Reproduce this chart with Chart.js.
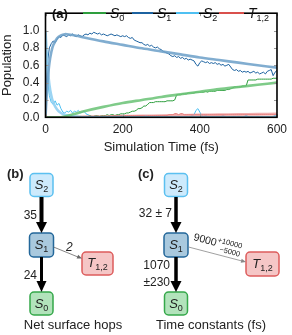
<!DOCTYPE html>
<html>
<head>
<meta charset="utf-8">
<script src="https://cdn.jsdelivr.net/npm/chart.js@4.4.1/dist/chart.umd.min.js"></script>
<style>
  html, body { margin: 0; padding: 0; background: #fff; }
  #wrap { position: relative; width: 292px; height: 335px; overflow: hidden; }
  #popChart { position: absolute; left: 0; top: 0; width: 292px; height: 155px; }
  #diagrams { position: absolute; left: 0; top: 0; }
  #diagrams text { font-family: 'Liberation Sans', Arial, sans-serif; fill: #222; }
</style>
</head>
<body>
<div id="wrap">
  <canvas id="popChart" width="292" height="155"></canvas>
  <svg id="diagrams" width="292" height="335" viewBox="0 0 292 335">
    <!-- (b) net surface hops -->
    <text x="7" y="178" font-size="13" font-weight="bold">(b)</text>
    <rect x="30" y="173.5" width="23" height="23" rx="4" fill="#cdeafc" stroke="#5bc0f0" stroke-width="1.5"/>
    <text x="41.5" y="189" font-size="13" text-anchor="middle"><tspan font-style="italic">S</tspan><tspan font-size="9" dy="3">2</tspan></text>
    <rect x="29.5" y="233" width="24" height="24" rx="4" fill="#a9c9de" stroke="#23679a" stroke-width="1.5"/>
    <text x="41.5" y="249" font-size="13" text-anchor="middle"><tspan font-style="italic">S</tspan><tspan font-size="9" dy="3">1</tspan></text>
    <rect x="82" y="252" width="31" height="23" rx="4" fill="#f5c6c6" stroke="#dd5c5c" stroke-width="1.5"/>
    <text x="97.5" y="267" font-size="13" text-anchor="middle"><tspan font-style="italic">T</tspan><tspan font-size="9" dy="3">1,2</tspan></text>
    <rect x="30" y="292" width="23" height="23" rx="4" fill="#b2e3bb" stroke="#35a84a" stroke-width="1.5"/>
    <text x="41.5" y="308" font-size="13" text-anchor="middle"><tspan font-style="italic">S</tspan><tspan font-size="9" dy="3">0</tspan></text>

    <rect x="39.5" y="197" width="4" height="27" fill="#000"/>
    <polygon points="36,222 47,222 41.5,233" fill="#000"/>
    <rect x="40" y="257" width="3" height="25" fill="#000"/>
    <polygon points="36.5,281 46.5,281 41.5,292" fill="#000"/>
    <line x1="53.5" y1="247" x2="78" y2="257" stroke="#666" stroke-width="0.8"/>
    <polygon points="82,258.5 76.6,258.45 78.2,254.75" fill="#666"/>
    <text x="37" y="219" font-size="12" text-anchor="end">35</text>
    <text x="37" y="279" font-size="12" text-anchor="end">24</text>
    <text x="66" y="251" font-size="12" font-style="italic">2</text>
    <text x="73" y="329" font-size="13" text-anchor="middle">Net surface hops</text>

    <!-- (c) time constants -->
    <text x="138" y="178" font-size="13" font-weight="bold">(c)</text>
    <rect x="164.5" y="173.5" width="23" height="23" rx="4" fill="#cdeafc" stroke="#5bc0f0" stroke-width="1.5"/>
    <text x="176" y="189" font-size="13" text-anchor="middle"><tspan font-style="italic">S</tspan><tspan font-size="9" dy="3">2</tspan></text>
    <rect x="164" y="233" width="24" height="24" rx="4" fill="#a9c9de" stroke="#23679a" stroke-width="1.5"/>
    <text x="176" y="249" font-size="13" text-anchor="middle"><tspan font-style="italic">S</tspan><tspan font-size="9" dy="3">1</tspan></text>
    <rect x="246" y="252" width="33" height="24" rx="4" fill="#f5c6c6" stroke="#dd5c5c" stroke-width="1.5"/>
    <text x="262.5" y="268" font-size="13" text-anchor="middle"><tspan font-style="italic">T</tspan><tspan font-size="9" dy="3">1,2</tspan></text>
    <rect x="164.5" y="292" width="23" height="23" rx="4" fill="#b2e3bb" stroke="#35a84a" stroke-width="1.5"/>
    <text x="176" y="308" font-size="13" text-anchor="middle"><tspan font-style="italic">S</tspan><tspan font-size="9" dy="3">0</tspan></text>

    <rect x="174.25" y="197" width="3.5" height="26" fill="#000"/>
    <polygon points="170.5,222 181.5,222 176,233" fill="#000"/>
    <rect x="174.25" y="257" width="3.5" height="25" fill="#000"/>
    <polygon points="170.5,281 181.5,281 176,292" fill="#000"/>
    <line x1="188.5" y1="247" x2="242" y2="261" stroke="#888" stroke-width="0.8"/>
    <polygon points="246,262 240.7,262.68 241.7,258.8" fill="#888"/>
    <text x="172" y="217" font-size="12" text-anchor="end">32 ± 7</text>
    <text x="170" y="269" font-size="12" text-anchor="end">1070</text>
    <text x="170" y="286" font-size="12" text-anchor="end">±230</text>
    <g transform="translate(193,240) rotate(14.6)">
      <text x="0" y="0" font-size="10.5">9000</text>
      <text x="24" y="-4" font-size="7.5">+10000</text>
      <text x="28" y="4.5" font-size="7.5">−5000</text>
    </g>
    <text x="211" y="329" font-size="13" text-anchor="middle">Time constants (fs)</text>
  </svg>
</div>
<script>
// sample times of the trajectory averages (fs)
const times = [];
for (let t = 0; t <= 600; t += 5) times.push(t);

// surface-hopping populations, read every 5 fs
const s0Pop = [
  0, 0, 0, 0, 0, 0, 0, 0, 0, 0,
  0, 0, 0, 0, 0, 0.01, 0, 0, 0.01, 0.01,
  0.01, 0.01, 0.01, 0.02, 0.01, 0.01, 0.02, 0.02, 0.01, 0.02,
  0.02, 0.02, 0.03, 0.02, 0.03, 0.03, 0.02, 0.03, 0.03, 0.04,
  0.04, 0.04, 0.05, 0.05, 0.06, 0.07, 0.07, 0.08, 0.10, 0.10,
  0.11, 0.13, 0.13, 0.15, 0.17, 0.17, 0.17, 0.18, 0.18, 0.18,
  0.18, 0.18, 0.18, 0.19, 0.19, 0.19, 0.19, 0.20, 0.26, 0.26,
  0.26, 0.27, 0.27, 0.27, 0.28, 0.28, 0.28, 0.28, 0.29, 0.29,
  0.29, 0.29, 0.29, 0.30, 0.29, 0.30, 0.30, 0.30, 0.30, 0.31,
  0.31, 0.31, 0.31, 0.31, 0.32, 0.32, 0.33, 0.34, 0.35, 0.35,
  0.35, 0.35, 0.36, 0.36, 0.36, 0.43, 0.43, 0.43, 0.43, 0.43,
  0.44, 0.44, 0.44, 0.44, 0.44, 0.44, 0.44, 0.44, 0.45, 0.45,
  0.45
];
const s1Pop = [
  0.00, 0.62, 0.80, 0.85, 0.88, 0.86, 0.90, 0.93, 0.92, 0.95,
  0.94, 0.93, 0.95, 0.94, 0.96, 0.94, 0.93, 0.95, 0.94, 0.93,
  0.95, 0.96, 0.95, 0.97, 0.96, 0.98, 0.97, 0.96, 0.97, 0.95,
  0.96, 0.95, 0.94, 0.95, 0.96, 0.95, 0.94, 0.95, 0.94, 0.93,
  0.94, 0.93, 0.94, 0.92, 0.91, 0.92, 0.89, 0.88, 0.87, 0.86,
  0.86, 0.84, 0.83, 0.84, 0.82, 0.83, 0.81, 0.80, 0.81, 0.79,
  0.78, 0.76, 0.75, 0.74, 0.73, 0.71, 0.70, 0.71, 0.69, 0.70,
  0.68, 0.69, 0.67, 0.68, 0.66, 0.67, 0.66, 0.65, 0.61, 0.59,
  0.63, 0.65, 0.64, 0.63, 0.64, 0.62, 0.63, 0.62, 0.63, 0.61,
  0.62, 0.60, 0.61, 0.59, 0.60, 0.61, 0.58, 0.55, 0.54, 0.55,
  0.53, 0.54, 0.52, 0.53, 0.52, 0.53, 0.51, 0.52, 0.53, 0.51,
  0.52, 0.50, 0.51, 0.52, 0.50, 0.53, 0.54, 0.55, 0.48, 0.52,
  0.54
];
const s2Pop = [
  1.00, 0.45, 0.25, 0.17, 0.15, 0.19, 0.14, 0.16, 0.10, 0.06,
  0.05, 0.07, 0.06, 0.08, 0.05, 0.07, 0.06, 0.08, 0.05, 0.06,
  0.07, 0.04, 0.03, 0.02, 0.01, 0.01, 0.02, 0.01, 0.00, 0.01,
  0.00, 0.01, 0.00, 0.00, 0.01, 0.00, 0.00, 0.01, 0.02, 0.01,
  0.02, 0.01, 0.00, 0.01, 0.00, 0.00, 0.01, 0.00, 0.00, 0.01,
  0.00, 0.01, 0.02, 0.01, 0.00, 0.01, 0.00, 0.00, 0.01, 0.00,
  0.01, 0.00, 0.01, 0.00, 0.00, 0.01, 0.00, 0.01, 0.00, 0.00,
  0.01, 0.00, 0.00, 0.01, 0.00, 0.01, 0.02, 0.03, 0.08, 0.10,
  0.06, 0.02, 0.01, 0.02, 0.01, 0.00, 0.01, 0.01, 0.00, 0.01,
  0.00, 0.01, 0.02, 0.01, 0.00, 0.01, 0.00, 0.01, 0.01, 0.00,
  0.01, 0.00, 0.00, 0.01, 0.02, 0.01, 0.00, 0.01, 0.00, 0.00,
  0.01, 0.00, 0.01, 0.00, 0.00, 0.01, 0.00, 0.00, 0.01, 0.02,
  0.01
];
const tPop = [
  0, 0, 0, 0, 0, 0, 0, 0, 0, 0,
  0, 0, 0, 0, 0.01, 0.01, 0.01, 0.01, 0.01, 0.01,
  0.01, 0.01, 0.01, 0.01, 0.01, 0.01, 0.01, 0.01, 0.01, 0.01,
  0.01, 0.01, 0.01, 0.01, 0.01, 0.02, 0.02, 0.02, 0.02, 0.02,
  0.02, 0.02, 0.02, 0.02, 0.02, 0.02, 0.02, 0.02, 0.02, 0.02,
  0.02, 0.02, 0.02, 0.02, 0.02, 0.02, 0.02, 0.02, 0.02, 0.02,
  0.02, 0.02, 0.02, 0.02, 0.03, 0.03, 0.03, 0.04, 0.04, 0.03,
  0.04, 0.04, 0.03, 0.03, 0.03, 0.03, 0.03, 0.03, 0.03, 0.03,
  0.03, 0.03, 0.03, 0.03, 0.03, 0.03, 0.03, 0.03, 0.03, 0.03,
  0.03, 0.03, 0.03, 0.03, 0.03, 0.03, 0.03, 0.03, 0.03, 0.03,
  0.03, 0.03, 0.03, 0.03, 0.03, 0.03, 0.03, 0.03, 0.03, 0.03,
  0.03, 0.03, 0.03, 0.03, 0.03, 0.03, 0.03, 0.03, 0.03, 0.03,
  0.03
];

// kinetic model fit
const fitTimes = [0, 3, 6, 10, 15, 20, 30, 40, 50, 60, 80, 100, 150, 200, 250, 300, 350, 400, 450, 500, 550, 600];
const s0Fit = [0, 0, 0, 0, 0, 0, 0, 0, 0.01, 0.02, 0.045, 0.07, 0.12, 0.165, 0.2, 0.235, 0.265, 0.295, 0.325, 0.35, 0.375, 0.40];
const s1Fit = [0, 0.25, 0.44, 0.62, 0.75, 0.83, 0.91, 0.945, 0.958, 0.955, 0.94, 0.92, 0.875, 0.835, 0.795, 0.76, 0.725, 0.69, 0.66, 0.63, 0.60, 0.572];
const s2Fit = [1.0, 0.75, 0.56, 0.38, 0.25, 0.17, 0.09, 0.05, 0.03, 0.02, 0.01, 0, 0, 0, 0, 0, 0, 0, 0, 0, 0, 0];
const tFit = [0, 0, 0, 0, 0, 0, 0, 0, 0, 0, 0.003, 0.005, 0.01, 0.013, 0.017, 0.02, 0.024, 0.028, 0.031, 0.034, 0.037, 0.04];

const yTicks = [0, 0.2, 0.4, 0.6, 0.8, 1.0];

const colors = {
  s0: '#2e9e3e', s1: '#1c62a0', s2: '#4fc0f2', t: '#d9504c',
  s0Fit: 'rgba(104,194,116,0.85)', s1Fit: 'rgba(112,162,202,0.88)',
  s2Fit: 'rgba(146,208,242,0.92)', tFit: 'rgba(236,146,146,0.75)'
};

const pts = (xs, ys) => xs.map((x, i) => ({ x, y: ys[i] }));

// frame, inward ticks and the in-axes legend
const framePlugin = {
  id: 'frame',
  afterDatasetsDraw(chart) {
    const { ctx, chartArea: a, scales } = chart;
    ctx.save();
    ctx.strokeStyle = '#999';
    ctx.lineWidth = 1;
    scales.y.ticks.forEach(t => {
      const y = Math.round(scales.y.getPixelForValue(t.value)) + 0.5;
      ctx.beginPath();
      ctx.moveTo(a.left, y); ctx.lineTo(a.left + 3, y);
      ctx.moveTo(a.right, y); ctx.lineTo(a.right - 3, y);
      ctx.stroke();
    });
    scales.x.ticks.forEach(t => {
      const x = Math.round(scales.x.getPixelForValue(t.value)) + 0.5;
      ctx.beginPath();
      ctx.moveTo(x, a.top); ctx.lineTo(x, a.top + 3);
      ctx.moveTo(x, a.bottom); ctx.lineTo(x, a.bottom - 3);
      ctx.stroke();
    });
    ctx.strokeStyle = '#000';
    ctx.lineWidth = 1.6;
    ctx.strokeRect(a.left, a.top, a.right - a.left, a.bottom - a.top);

    // legend
    ctx.fillStyle = '#111';
    ctx.textBaseline = 'alphabetic';
    ctx.font = 'bold 13px "Liberation Sans"';
    ctx.fillText('(a)', 52, 18);
    const items = [
      { x0: 83, x1: 106, main: 'S', sub: '0', color: colors.s0 },
      { x0: 132, x1: 153, main: 'S', sub: '1', color: colors.s1 },
      { x0: 176, x1: 199, main: 'S', sub: '2', color: colors.s2 },
      { x0: 219, x1: 244, main: 'T', sub: '1,2', color: colors.t }
    ];
    items.forEach(it => {
      ctx.strokeStyle = it.color;
      ctx.lineWidth = 2;
      ctx.beginPath();
      ctx.moveTo(it.x0, 13); ctx.lineTo(it.x1, 13);
      ctx.stroke();
      ctx.fillStyle = '#111';
      ctx.font = 'italic 14px "Liberation Sans"';
      ctx.fillText(it.main, it.x1 + 4, 18);
      const w = ctx.measureText(it.main).width;
      ctx.font = '9px "Liberation Sans"';
      ctx.fillText(it.sub, it.x1 + 4 + w, 21);
    });
    ctx.restore();
  }
};

Chart.defaults.font.family = '"Liberation Sans", Arial, sans-serif';
Chart.defaults.font.size = 12;
Chart.defaults.color = '#222';

const thin = (label, xs, ys, color) => ({
  label, data: pts(xs, ys), borderColor: color, borderWidth: 1, pointRadius: 0, tension: 0
});
const thick = (label, xs, ys, color) => ({
  label, data: pts(xs, ys), borderColor: color, borderWidth: 2.6, pointRadius: 0, tension: 0.3
});

new Chart(document.getElementById('popChart'), {
  type: 'line',
  data: {
    datasets: [
      thick('S1 fit', fitTimes, s1Fit, colors.s1Fit),
      thick('S0 fit', fitTimes, s0Fit, colors.s0Fit),
      thick('S2 fit', fitTimes, s2Fit, colors.s2Fit),
      thick('T fit', fitTimes, tFit, colors.tFit),
      thin('S1', times, s1Pop, colors.s1),
      thin('S0', times, s0Pop, colors.s0),
      thin('S2', times, s2Pop, colors.s2),
      thin('T1,2', times, tPop, colors.t)
    ]
  },
  options: {
    responsive: false,
    animation: false,
    devicePixelRatio: 1,
    layout: { padding: { top: 1, right: 11, left: 0, bottom: 0 } },
    plugins: { legend: { display: false }, tooltip: { enabled: false } },
    scales: {
      x: {
        type: 'linear',
        min: 0,
        max: 600,
        grid: { display: false, drawTicks: false },
        border: { display: false },
        ticks: { stepSize: 200, padding: 5, maxRotation: 0 },
        title: { display: true, text: 'Simulation Time (fs)', font: { size: 13 }, padding: 0 },
        afterFit: s => { s.height = 37.7; }
      },
      y: {
        min: 0,
        max: 1.2,
        grid: { display: false, drawTicks: false },
        border: { display: false },
        afterBuildTicks: s => { s.ticks = yTicks.map(v => ({ value: v })); },
        ticks: { padding: 6, callback: v => v.toFixed(1) },
        title: { display: true, text: 'Population', font: { size: 13 }, padding: 0 },
        afterFit: s => { s.width = 45.5; }
      }
    }
  },
  plugins: [framePlugin]
});
</script>
</body>
</html>
